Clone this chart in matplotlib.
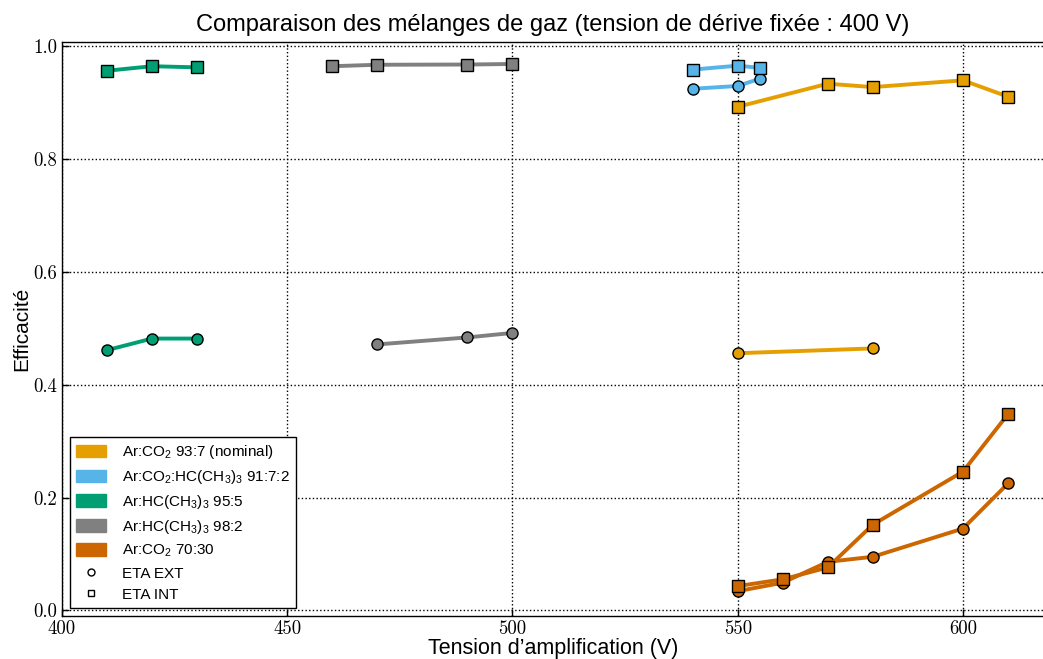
import matplotlib
matplotlib.use("Agg")
import matplotlib.pyplot as plt
from matplotlib.lines import Line2D
from matplotlib.patches import Patch

plt.rcParams["font.family"] = ["Liberation Sans", "DejaVu Sans"]
plt.rcParams["mathtext.fontset"] = "custom"
plt.rcParams["mathtext.rm"] = "Liberation Sans"
plt.rcParams["mathtext.it"] = "Liberation Sans:italic"
plt.rcParams["xtick.direction"] = "in"
plt.rcParams["ytick.direction"] = "in"

# Ar:CO2 93:7 (nominal)
nom_x_ext = [550, 580]
nom_ext = [0.456, 0.4645]
nom_x_int = [550, 570, 580, 600, 610]
nom_int = [0.893, 0.934, 0.928, 0.940, 0.911]

# Ar:CO2:HC(CH3)3 91:7:2
iso2_x = [540, 550, 555]
iso2_ext = [0.925, 0.930, 0.943]
iso2_int = [0.959, 0.966, 0.962]

# Ar:HC(CH3)3 95:5
hc5_x = [410, 420, 430]
hc5_ext = [0.4615, 0.482, 0.482]
hc5_int = [0.957, 0.965, 0.963]

# Ar:HC(CH3)3 98:2
hc2_x_ext = [470, 490, 500]
hc2_ext = [0.4716, 0.484, 0.492]
hc2_x_int = [460, 470, 490, 500]
hc2_int = [0.965, 0.9676, 0.968, 0.969]

# Ar:CO2 70:30
co30_x = [550, 560, 570, 580, 600, 610]
co30_ext = [0.034, 0.049, 0.086, 0.095, 0.145, 0.225]
co30_int = [0.043, 0.055, 0.076, 0.152, 0.246, 0.348]

labels = [
    r"Ar:CO$_\mathregular{2}$ 93:7 (nominal)",
    r"Ar:CO$_\mathregular{2}$:HC(CH$_\mathregular{3}$)$_\mathregular{3}$ 91:7:2",
    r"Ar:HC(CH$_\mathregular{3}$)$_\mathregular{3}$ 95:5",
    r"Ar:HC(CH$_\mathregular{3}$)$_\mathregular{3}$ 98:2",
    r"Ar:CO$_\mathregular{2}$ 70:30",
]
colors = ["#E69F00", "#56B4E9", "#009E73", "#808080", "#CC6600"]

fig = plt.figure(figsize=(10.43, 6.59), dpi=100)
ax = fig.add_axes([0.0594, 0.0653, 0.9416, 0.871])

series = [
    (nom_x_ext, nom_ext, nom_x_int, nom_int),
    (iso2_x, iso2_ext, iso2_x, iso2_int),
    (hc5_x, hc5_ext, hc5_x, hc5_int),
    (hc2_x_ext, hc2_ext, hc2_x_int, hc2_int),
    (co30_x, co30_ext, co30_x, co30_int),
]
for (xe, ye, xi, yi), c in zip(series, colors):
    ax.plot(xe, ye, "-o", color=c, lw=2.8, ms=8, mec="k", mew=1, zorder=3)
    ax.plot(xi, yi, "-s", color=c, lw=2.8, ms=8, mec="k", mew=1, zorder=3)

ax.set_xlim(400, 618)
ax.set_ylim(-0.01, 1.008)
ax.set_xticks([400, 450, 500, 550, 600])
ax.set_yticks([0.0, 0.2, 0.4, 0.6, 0.8, 1.0])
ax.set_xticklabels(["400", "450", "500", "550", "600"])
ax.set_yticklabels(["0.0", "0.2", "0.4", "0.6", "0.8", "1.0"])
for lab in ax.get_xticklabels() + ax.get_yticklabels():
    lab.set_fontfamily("cmr10")
    lab.set_fontsize(13.5)
ax.tick_params(length=5, width=1, color="k", top=False, right=False)
ax.tick_params(axis="x", pad=3)
ax.grid(color="k", linestyle=":", linewidth=1)
for sp in ax.spines.values():
    sp.set_color("k")
    sp.set_linewidth(1)

ax.set_title("Comparaison des mélanges de gaz (tension de dérive fixée : 400 V)",
             fontsize=17, pad=8)
ax.set_xlabel("Tension d’amplification (V)", fontsize=15.5, labelpad=0)
ax.set_ylabel("Efficacité", fontsize=15, labelpad=1)

handles = [Patch(facecolor=c, edgecolor=c) for c in colors]
handles.append(Line2D([], [], ls="", marker="o", mfc="w", mec="k", ms=5))
handles.append(Line2D([], [], ls="", marker="s", mfc="w", mec="k", ms=5))
leg = ax.legend(handles, labels + ["ETA EXT", "ETA INT"], loc="lower left",
                fontsize=11, fancybox=False, framealpha=1, edgecolor="k",
                handlelength=2.0, handleheight=0.9, labelspacing=0.45,
                handletextpad=1.0, borderaxespad=0.5)
leg.get_frame().set_linewidth(1)

fig.savefig("out.png", dpi=100)
